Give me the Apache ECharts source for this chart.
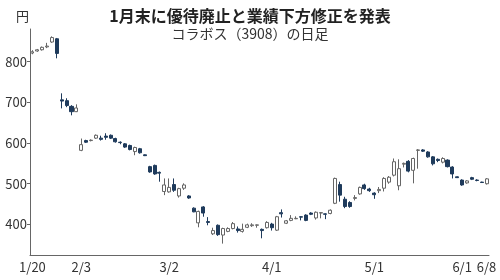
<!DOCTYPE html>
<html><head><meta charset="utf-8">
<script src="https://cdn.jsdelivr.net/npm/echarts@6/dist/echarts.min.js"></script>
<style>html,body{margin:0;padding:0;background:#fff}#c{width:500px;height:280px}</style>
</head><body><div id="c"></div>
<script>
const dates = ['1/20','1/21','1/22','1/23','1/24','1/27','1/28','1/29','1/30','1/31',
 '2/3','2/4','2/5','2/6','2/7','2/10','2/12','2/13','2/14','2/17','2/18','2/19','2/20','2/21','2/25','2/26','2/27','2/28',
 '3/2','3/3','3/4','3/5','3/6','3/9','3/10','3/11','3/12','3/13','3/16','3/17','3/18','3/19','3/23','3/24','3/25','3/26','3/27','3/30','3/31',
 '4/1','4/2','4/3','4/6','4/7','4/8','4/9','4/10','4/13','4/14','4/15','4/16','4/17','4/20','4/21','4/22','4/23','4/24','4/27','4/28','4/30',
 '5/1','5/7','5/8','5/11','5/12','5/13','5/14','5/15','5/18','5/19','5/20','5/21','5/22','5/25','5/26','5/27','5/28','5/29',
 '6/1','6/2','6/3','6/4','6/5','6/8'];
const openV = [821,826,829,836,848,856,706,704,690,677,
 582,606,606,612,612,617,619,611,602,598,594,579,586,571,542,545,528,481,
 480,498,470,489,470,440,404,443,407,377,398,374,383,390,389,383,393,397,398,388,392,
 401,386,429,403,410,414,419,423,428,416,428,426,427,452,498,462,454,464,475,497,487,
 477,483,489,504,521,495,548,555,533,582,583,578,566,560,553,558,541,517,
 509,502,515,509,504,500];
const closeV = [824,829,835,838,859,820,703,692,677,686,
 596,602,607,619,609,614,612,603,601,590,584,589,576,569,529,524,526,497,
 491,484,488,497,465,431,432,428,405,385,375,390,390,402,385,388,399,399,399,385,405,
 392,419,426,409,415,415,418,410,425,430,429,425,435,513,472,444,444,466,491,488,483,
 473,486,513,516,554,537,550,531,562,583,580,566,549,557,562,542,524,515,
 497,507,511,508,503,512];
const lowV = [818,824,827,833,846,808,685,688,668,676,
 580,600,604,610,606,608,610,601,597,588,582,570,574,568,527,522,505,472,
 478,480,466,485,463,430,393,419,398,374,372,353,381,388,380,380,391,394,392,366,390,
 385,384,417,401,408,413,410,408,423,412,415,413,425,450,456,440,441,459,473,485,480,
 463,477,481,500,518,484,540,528,501,537,578,564,545,553,550,540,513,514,
 495,500,509,506,502,498];
const highV = [828,831,837,846,862,858,722,710,693,695,
 611,608,609,621,618,624,621,613,604,600,596,591,588,572,544,547,530,513,
 513,513,490,501,472,442,434,445,418,392,400,392,393,406,395,402,402,403,400,390,408,
 404,421,437,411,423,420,420,425,430,432,430,427,437,515,505,468,457,472,493,500,490,
 479,492,516,519,562,560,552,558,564,585,585,580,568,562,565,560,543,518,
 511,509,517,511,505,514];
const tickLabels = ['1/20','2/3','3/2','4/1','5/1','6/1','6/8'];
const yTicks = [400,500,600,700,800];

const kData = dates.map((d,i)=>[openV[i],closeV[i],lowV[i],highV[i]]);
const isTick = (i)=> tickLabels.indexOf(dates[i])>=0;
const FONT = '"Noto Sans CJK JP", "Noto Sans", sans-serif';

const chart = echarts.init(document.getElementById('c'), null, {renderer:'canvas'});
chart.setOption({
  animation:false,
  backgroundColor:'#fff',
  title:{
    text:'1月末に優待廃止と業績下方修正を発表',
    subtext:'コラボス（3908）の日足',
    left:'center', top:3, itemGap:3,
    textStyle:{fontFamily:FONT,fontSize:16,fontWeight:'bold',color:'#222'},
    subtextStyle:{fontFamily:FONT,fontSize:14,color:'#333'}
  },
  graphic:[{type:'text',left:16,top:10,style:{text:'円',fontFamily:FONT,fontSize:13,fill:'#333'}}],
  grid:{left:30,right:11,top:29,bottom:25},
  xAxis:{
    type:'category', data:dates, boundaryGap:true,
    axisLine:{lineStyle:{color:'#666',width:1}},
    axisTick:{inside:true,length:4,alignWithLabel:true,interval:(i)=>isTick(i),lineStyle:{color:'#666'}},
    axisLabel:{interval:(i)=>isTick(i),margin:6,fontFamily:FONT,fontSize:13,color:'#333'},
    splitLine:{show:false}
  },
  yAxis:{
    type:'value', min:325, max:880, scale:true,
    axisLine:{show:true,lineStyle:{color:'#666',width:1}},
    axisTick:{show:true,length:3,customValues:yTicks,lineStyle:{color:'#666'}},
    axisLabel:{customValues:yTicks,margin:3,fontFamily:FONT,fontSize:13,color:'#333'},
    splitLine:{show:false}
  },
  series:[{
    type:'candlestick',
    data:kData,
    barWidth:'72%',
    itemStyle:{color:'#ffffff',color0:'#1f3b5c',borderColor:'#666666',borderColor0:'#1f3b5c',borderWidth:1}
  }]
});
</script></body></html>
